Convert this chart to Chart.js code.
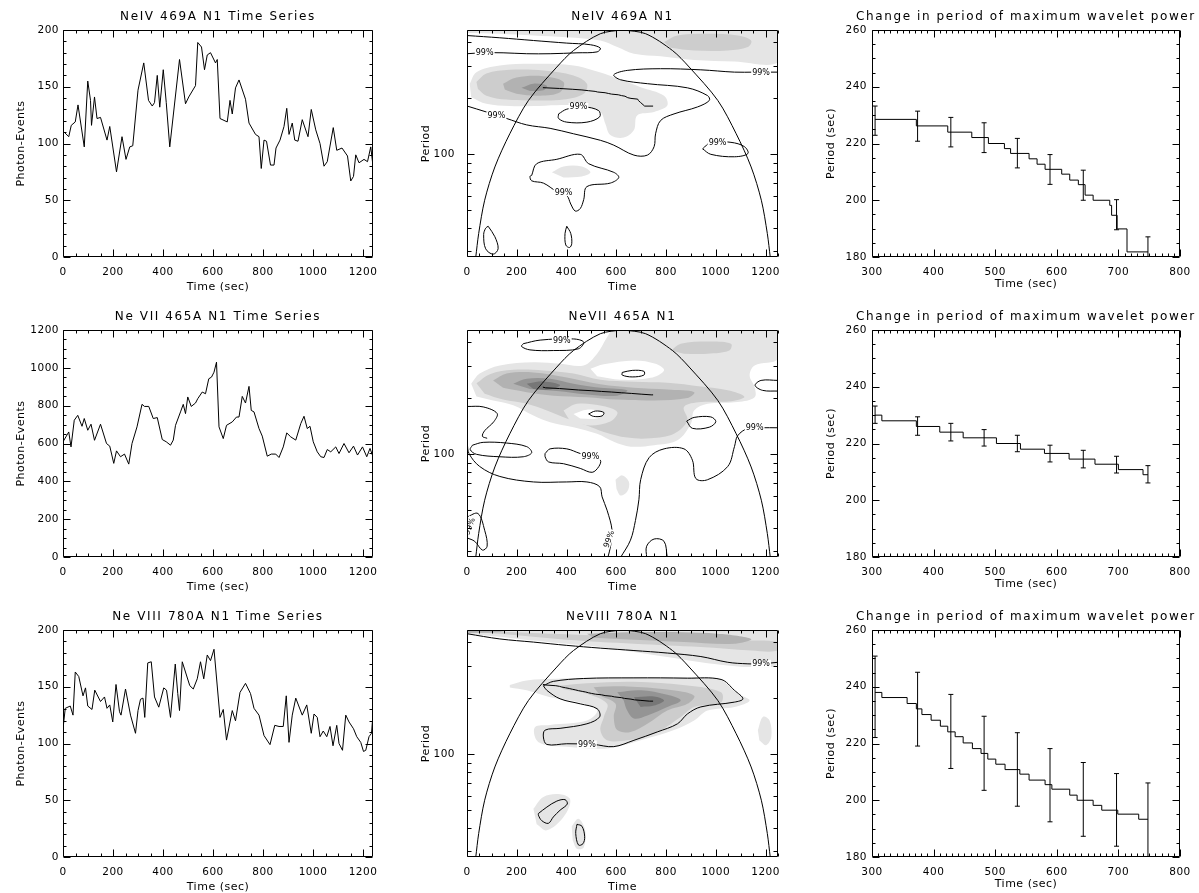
<!DOCTYPE html>
<html>
<head>
<meta charset="utf-8">
<script src="https://cdn.jsdelivr.net/npm/chart.js@4.4.1/dist/chart.umd.min.js"></script>
<style>
html,body{margin:0;padding:0;background:#fff;overflow:hidden;}
#wrap{position:relative;width:1199px;height:893px;overflow:hidden;background:#fff;}
canvas{position:absolute;}
</style>
</head>
<body>
<div id="wrap">
<canvas id="c1" width="400" height="300" style="left:0;top:0"></canvas>
<canvas id="c2" width="400" height="300" style="left:400px;top:0"></canvas>
<canvas id="c3" width="399" height="300" style="left:800px;top:0"></canvas>
<canvas id="c4" width="400" height="300" style="left:0;top:300px"></canvas>
<canvas id="c5" width="400" height="300" style="left:400px;top:300px"></canvas>
<canvas id="c6" width="399" height="300" style="left:800px;top:300px"></canvas>
<canvas id="c7" width="400" height="300" style="left:0;top:600px"></canvas>
<canvas id="c8" width="400" height="300" style="left:400px;top:600px"></canvas>
<canvas id="c9" width="399" height="300" style="left:800px;top:600px"></canvas>
</div>
<script>
/* ---------- tick labels ---------- */
const timeTicks = [0,200,400,600,800,1000,1200];
const countTicksA = [0,50,100,150,200];
const countTicksB = [0,200,400,600,800,1000,1200];
const periodTicks = [100];
const periodMinor = [30,40,50,60,70,80,90,200,300,400];
const stepTimeTicks = [300,400,500,600,700,800];
const stepPeriodTicks = [180,200,220,240,260];

/* ---------- time series (photon events) ---------- */
const ne4Time = [0,23,33,49,60,85,99,110,114,126,136,150,176,187,214,236,252,267,279,300,323,342,357,366,377,387,401,413,427,466,490,503,530,539,554,566,577,590,610,617,628,657,668,677,690,704,730,744,770,784,793,804,814,830,844,852,868,884,895,904,917,927,940,957,980,993,1011,1028,1044,1057,1081,1095,1116,1138,1151,1162,1171,1184,1204,1218,1231,1240];
const ne4Counts = [111,106,116,119,134,97,155,138,116,141,122,123,103,115,75,106,86,97,98,147,171,138,133,136,160,132,165,136,97,174,135,141,151,189,185,165,178,180,171,174,122,119,138,126,149,156,139,118,108,106,78,103,102,81,81,96,103,115,131,108,118,103,102,121,106,130,112,100,80,84,114,94,96,89,67,71,90,83,86,84,97,80];

const ne7Time = [0,23,32,45,59,76,85,99,112,126,150,174,187,203,214,230,246,263,276,296,316,326,343,361,377,397,413,430,441,450,470,481,490,499,513,530,539,557,570,583,594,604,614,624,641,654,677,694,704,717,730,744,753,764,784,797,817,833,851,864,881,895,911,931,951,964,977,988,1001,1017,1031,1044,1057,1071,1091,1104,1124,1144,1162,1178,1198,1215,1228,1240];
const ne7Counts = [609,661,582,723,749,691,732,670,702,617,702,600,586,495,561,530,544,491,600,688,807,796,796,732,737,621,609,591,618,696,767,807,758,846,796,814,837,872,863,942,951,977,1030,688,626,696,714,740,740,849,814,902,775,767,679,639,533,544,544,526,582,656,635,618,705,744,679,691,609,556,530,526,568,556,582,547,600,551,586,539,582,530,574,530];

const ne8Time = [0,9,29,40,49,63,80,90,99,116,127,150,166,176,187,199,212,226,232,250,270,290,300,310,320,327,339,353,366,383,403,414,430,449,459,466,477,507,521,537,550,563,577,590,604,628,641,654,677,690,708,730,750,764,784,804,828,847,864,881,893,904,917,931,957,975,993,1004,1017,1028,1041,1055,1068,1080,1095,1104,1118,1131,1144,1162,1175,1191,1202,1211,1224,1234,1240];
const ne8Counts = [113,131,133,125,163,159,142,149,133,130,147,137,141,131,134,119,152,128,125,148,125,109,129,139,140,123,171,172,141,132,149,147,123,170,144,129,172,151,148,157,172,157,178,173,183,123,130,103,129,120,145,153,144,131,125,107,99,116,115,115,142,101,125,140,125,134,109,126,123,106,111,106,115,98,116,100,94,125,119,113,106,101,93,94,106,109,126];

/* ---------- period of maximum wavelet power (steps + error bars) ---------- */
const ne4StepT = [305,372,423,462,489,515,525,555,568,581,608,621,635,646,659,686,689,698,714,748];
const ne4StepP = [228.5,226.2,224,222.1,220,218.2,216.5,214.6,212.7,210.9,209.2,207.1,205.5,201.8,200,198.2,194.7,189.9,181.8,181.8];
const ne7StepT = [305,316,372,410,448,502,541,580,620,662,700,740,748];
const ne7StepP = [230,228,226,224,222,220,218,216.5,214.5,212.7,210.8,209,209];
const ne8StepT = [305,316,357,372,381,396,411,423,435,448,463,477,488,501,516,540,555,581,592,621,633,659,673,699,733,748];
const ne8StepP = [238,236.2,234.1,232.2,230.2,228.2,226.1,224.1,222.4,220.2,218.2,216.5,214.5,212.7,210.8,209.2,207.1,205.5,203.9,201.8,200,198.2,196.5,195.1,193.3,193.3];

const errT = [305,374,428,482,536,589,643,697,748];
const ne4ErrLo = [222.9,220.8,218.8,216.8,211.4,205.6,200,189.6,177];
const ne4ErrHi = [233.2,231.4,229.2,227.3,221.8,216.1,210.6,200.2,187.1];
const ne7ErrLo = [227.1,222.9,220.9,219.1,217.1,213.5,211.4,209.6,206.1];
const ne7ErrHi = [233.2,229.4,227.1,224.9,222.9,219.4,217.6,215.5,212.2];
const ne8ErrLo = [222.1,219.1,211.2,203.5,197.9,192.4,187.3,183.8,179.8];
const ne8ErrHi = [250.8,245.1,237.3,229.6,223.8,218.2,213.3,209.4,206.1];

/* ---------- cone of influence (time, period) ---------- */
const coiT = [35,47,71,112,172,247,361,428,536,624,718,826,893,1008,1082,1142,1183,1207,1219];
const coiP = [27.8,37.5,56.6,85.5,129,195,295,362,446,468,446,362,295,195,129,85.5,56.6,37.5,27.8];

/* ---------- wavelet power: [gray level, outline [time, period]] ---------- */
const ne4Shades = [
  [1, [[0,468],[1250,468],[1250,313],[1075,316],[913,322],[778,337],[671,348],[604,378],[536,410],[401,427],[267,436],[132,446],[0,450]]],
  [2, [[792,402],[846,436],[967,446],[1089,436],[1142,410],[1129,378],[1048,362],[913,362],[818,375]]],
  [1, [[11,240],[38,277],[132,301],[294,307],[428,301],[509,283],[590,261],[698,230],[792,207],[805,183],[752,169],[684,162],[671,135],[630,123],[576,127],[556,146],[536,169],[455,182],[361,184],[267,182],[172,182],[78,187],[17,203]]],
  [2, [[38,245],[78,272],[172,285],[307,283],[428,266],[482,240],[469,212],[388,197],[267,195],[159,197],[78,207],[44,225]]],
  [3, [[145,240],[199,259],[307,263],[388,245],[374,216],[294,207],[199,212],[152,223]]],
  [4, [[219,228],[267,240],[321,234],[307,221],[253,219]]],
  [1, [[341,80],[388,86],[462,86],[496,80],[462,76],[388,75]]]
];
const ne4Contours = [
  [[0,436],[132,424],[267,410],[401,397],[496,389],[536,373],[523,356],[442,352],[334,348],[240,348],[145,352],[65,352],[0,348]],
  [[1250,277],[1156,277],[1075,277],[940,285],[778,289],[644,283],[590,268],[617,252],[725,240],[886,228],[967,207],[974,195],[927,180],[832,165],[778,152],[758,129],[752,110],[725,99],[671,99],[590,112],[536,119],[428,129],[334,138],[240,144],[159,156],[78,169],[0,182]],
  [[368,165],[401,175],[469,180],[529,172],[533,159],[482,149],[401,149],[368,156],[368,165]],
  [[947,107],[980,116],[1061,116],[1115,110],[1129,101],[1075,97],[980,100],[947,107]],
  [[260,77],[280,89],[361,94],[455,100],[489,89],[590,80],[610,75],[576,70],[482,67],[469,57],[455,51],[435,49.5],[417,54],[401,60],[361,63],[307,70],[260,72],[253,76],[260,77]],
  [[85,41],[112,36],[125,31],[105,29],[75,31],[67,37],[75,40],[85,41]],
  [[401,41],[417,37.5],[421,33],[412,31.5],[397,32.5],[394,37.5],[401,41]]
];
const ne4Labels = [[71,352,0],[1182,277,0],[118,162,0],[448,180,0],[1007,116,0],[388,62.5,0]];

const ne7Shades = [
  [1, [[17,240],[51,272],[132,301],[267,313],[374,307],[469,301],[523,348],[563,427],[590,468],[1250,468],[1250,327],[1156,301],[1136,266],[1156,230],[1156,203],[1088,191],[967,187],[913,172],[900,146],[846,119],[752,112],[658,110],[590,117],[523,129],[428,140],[334,149],[267,162],[186,184],[105,195],[38,205]]],
  [0, [[496,289],[550,305],[671,320],[758,307],[792,283],[738,258],[617,252],[523,263]]],
  [2, [[819,362],[859,394],[967,405],[1061,394],[1054,362],[967,348],[872,348]]],
  [2, [[38,241],[92,270],[186,285],[307,283],[428,272],[536,252],[671,246],[805,243],[940,232],[1048,221],[1115,204],[1061,193],[940,191],[872,180],[886,152],[832,129],[738,122],[644,123],[550,132],[482,143],[401,156],[321,172],[240,187],[145,197],[71,212]]],
  [1, [[388,172],[442,187],[536,183],[604,169],[576,150],[496,143],[415,150]]],
  [0, [[428,165],[482,174],[550,168],[523,156],[455,156]]],
  [3, [[105,250],[159,272],[267,276],[401,259],[536,238],[671,228],[805,223],[913,216],[886,201],[752,195],[604,197],[482,203],[348,207],[240,216],[145,228]]],
  [4, [[186,240],[240,255],[334,255],[428,240],[536,228],[644,221],[604,207],[482,210],[361,219],[253,225]]],
  [5, [[240,240],[307,247],[374,236],[334,223],[267,225]]],
  [1, [[597,73],[624,77],[651,71],[644,63],[617,60],[601,65]]]
];
const ne7Contours = [
  [[226,394],[294,412],[428,418],[469,402],[448,370],[347,362],[253,365],[219,381],[226,394]],
  [[624,276],[664,283],[711,280],[711,267],[664,261],[624,267],[624,276]],
  [[1250,250],[1182,250],[1158,235],[1188,221],[1250,219]],
  [[489,165],[516,171],[550,168],[543,161],[509,160],[489,165]],
  [[883,151],[913,158],[980,159],[1000,150],[974,140],[906,138],[883,151]],
  [[0,181],[65,180],[121,166],[108,150],[71,134],[62,125],[81,122]],
  [[22,112],[65,116],[159,115],[240,110],[260,102],[226,97],[132,97],[38,100],[13,106],[22,112]],
  [[1,114],[8,101],[51,86],[132,76],[267,71],[401,71],[482,71],[533,67],[543,59],[563,50],[583,39],[577,32],[566,27.8]],
  [[617,27.8],[657,34.5],[677,44],[691,57],[698,73],[732,96],[792,107],[872,107],[906,93],[920,74],[967,73],[1048,86],[1075,110],[1088,126],[1129,138],[1182,139],[1250,139]],
  [[314,101],[334,107],[401,107],[455,101],[496,98],[536,93],[530,86],[503,80],[455,84],[388,89],[328,91],[314,97],[314,101]],
  [[0,46],[44,48],[71,39],[81,32],[62,30.5],[31,34],[0,35.5]],
  [[722,27.8],[722,32],[752,35],[792,34],[805,27.8]]
];
const ne7Labels = [[381,410,0],[496,98,0],[1156,139,0],[570,35,-70],[11,41,-70]];

const ne8Shades = [
  [1, [[0,468],[1250,468],[1250,307],[1142,295],[1048,301],[940,313],[805,334],[671,355],[536,378],[401,394],[267,410],[132,430],[0,446]]],
  [2, [[0,464],[267,450],[536,436],[805,427],[1075,410],[1250,402],[1250,362],[1142,362],[940,378],[671,394],[401,414],[132,446],[0,456]]],
  [3, [[482,446],[738,455],[1007,446],[1142,418],[1075,394],[872,402],[671,414],[509,424]]],
  [3, [[0,468],[172,468],[132,456],[0,450]]],
  [1, [[172,236],[240,250],[361,255],[536,258],[805,258],[1007,255],[1088,212],[1136,195],[1075,180],[967,172],[913,152],[832,135],[698,119],[604,110],[536,107],[401,110],[321,112],[280,119],[273,140],[334,144],[482,152],[523,172],[455,190],[334,203],[240,221],[172,229]]],
  [1, [[1169,135],[1189,159],[1216,152],[1223,124],[1202,112],[1175,119]]],
  [2, [[374,234],[482,241],[671,246],[886,235],[1021,216],[1021,190],[913,180],[859,159],[752,129],[644,119],[563,119],[536,135],[550,159],[563,187],[482,212],[388,224]]],
  [3, [[509,230],[644,232],[805,223],[913,207],[886,187],[805,172],[725,146],[658,132],[604,135],[590,159],[597,187],[536,207]]],
  [4, [[604,216],[698,221],[805,209],[859,195],[805,180],[725,162],[671,156],[644,172],[630,195]]],
  [5, [[671,203],[752,205],[792,195],[752,183],[698,180]]],
  [1, [[267,51],[307,59],[374,61],[415,57],[388,46],[321,39],[280,42]]],
  [1, [[421,41],[448,45],[475,39],[469,31.5],[442,31],[425,34.5]]]
];
const ne8Contours = [
  [[0,446],[132,418],[267,402],[401,386],[536,373],[671,362],[805,351],[940,336],[1048,313],[1129,307],[1182,307],[1250,313]],
  [[307,234],[347,247],[469,256],[671,258],[886,257],[1021,253],[1075,221],[1109,199],[1075,191],[940,180],[886,165],[846,146],[765,132],[671,119],[590,110],[509,113],[401,114],[321,113],[307,124],[314,135],[374,138],[482,146],[533,159],[523,176],[455,187],[374,199],[321,221],[307,234]],
  [[287,48],[321,52],[361,56],[394,57],[403,54],[374,50],[347,46],[327,42.5],[300,44],[287,47],[287,48]],
  [[442,42],[462,41],[473,36],[466,33],[448,32.5],[437,37.5],[442,42]]
];
const ne8Labels = [[1182,307,0],[482,113,0]];

/* ---------- look ---------- */
Chart.defaults.font.family = '"DejaVu Sans", sans-serif';
Chart.defaults.color = '#000';
const GRAYS = ['#ffffff','#e5e5e5','#cdcdcd','#b2b2b2','#949494','#777777'];
const COLS = [
  {yw:63, pr:27, tickPad:4, titlePad:15, xTitleBottom:6},
  {yw:67, pr:22, tickPad:12, titlePad:20, xTitleBottom:6},
  {yw:72, pr:16, tickPad:5, titlePad:25, xTitleBottom:9}
];
const panelCfg = {};

function minorValues(scale, majors, n) {
  const step = (majors[1] - majors[0]) / n, out = [];
  for (let v = Math.ceil(scale.min / step) * step; v <= scale.max + 1e-9; v += step) {
    if (!majors.some(m => Math.abs(m - v) < 1e-6)) out.push(v);
  }
  return out;
}

/* IDL style box: inward ticks on four sides, shaded contour fills, contour labels, title */
const idlFrame = {
  id: 'idlFrame',
  beforeDraw(chart) { chart.ctx.letterSpacing = '0.5px'; },
  beforeDatasetDraw(chart, args) {
    const ds = chart.data.datasets[args.index];
    if (ds.shade === undefined) return;
    const ctx = chart.ctx, a = chart.chartArea, line = args.meta.dataset;
    ctx.save();
    ctx.beginPath(); ctx.rect(a.left, a.top, a.right - a.left, a.bottom - a.top); ctx.clip();
    ctx.beginPath();
    if (line && typeof line.path === 'function') {
      if (line.updateControlPoints) line.updateControlPoints(a, 'x');
      line.path(ctx);
    } else {
      args.meta.data.forEach((p, i) => i ? ctx.lineTo(p.x, p.y) : ctx.moveTo(p.x, p.y));
    }
    ctx.closePath();
    ctx.fillStyle = GRAYS[ds.shade];
    ctx.fill();
    ctx.restore();
    return false;
  },
  afterDatasetsDraw(chart) {
    const cfg = panelCfg[chart.canvas.id];
    if (!cfg || !cfg.labels) return;
    const ctx = chart.ctx, a = chart.chartArea;
    ctx.save();
    ctx.beginPath(); ctx.rect(a.left, a.top, a.right - a.left, a.bottom - a.top); ctx.clip();
    ctx.font = '8px "DejaVu Sans"';
    ctx.letterSpacing = '0px';
    ctx.textAlign = 'center'; ctx.textBaseline = 'middle';
    cfg.labels.forEach(([t, p, ang]) => {
      const x = chart.scales.x.getPixelForValue(t), y = chart.scales.y.getPixelForValue(p);
      ctx.save();
      ctx.translate(x, y);
      if (ang) ctx.rotate(ang * Math.PI / 180);
      const w = ctx.measureText('99%').width;
      ctx.fillStyle = '#fff'; ctx.fillRect(-w / 2 - 1, -4, w + 2, 8);
      ctx.fillStyle = '#000'; ctx.fillText('99%', 0, 0.5);
      ctx.restore();
    });
    ctx.restore();
  },
  afterDraw(chart) {
    const cfg = panelCfg[chart.canvas.id];
    if (!cfg) return;
    const ctx = chart.ctx, a = chart.chartArea, xs = chart.scales.x, ys = chart.scales.y;
    const L = Math.round(a.left) + 0.5, R = Math.round(a.right) - 0.5;
    const T = Math.round(a.top) + 0.5, B = Math.round(a.bottom) - 0.5;
    ctx.save();
    ctx.strokeStyle = '#000'; ctx.lineWidth = 1;
    ctx.beginPath();
    ctx.rect(L, T, R - L, B - T);
    const tick = (scale, v, len, horiz) => {
      const p = Math.round(scale.getPixelForValue(v)) + 0.5;
      if (horiz) {
        if (p < L - 1 || p > R + 1) return;
        ctx.moveTo(p, B); ctx.lineTo(p, B - len); ctx.moveTo(p, T); ctx.lineTo(p, T + len);
      } else {
        if (p < T - 1 || p > B + 1) return;
        ctx.moveTo(L, p); ctx.lineTo(L + len, p); ctx.moveTo(R, p); ctx.lineTo(R - len, p);
      }
    };
    cfg.xTicks.forEach(v => tick(xs, v, 7, true));
    minorValues(xs, cfg.xTicks, cfg.xMinor).forEach(v => tick(xs, v, 3, true));
    cfg.yTicks.forEach(v => tick(ys, v, 7, false));
    (cfg.yMinorList || minorValues(ys, cfg.yTicks, cfg.yMinor)).forEach(v => tick(ys, v, cfg.yMinorList ? 4 : 3, false));
    ctx.stroke();
    ctx.font = '12px "DejaVu Sans"';
    ctx.letterSpacing = '1.6px';
    ctx.fillStyle = '#000'; ctx.textAlign = 'center'; ctx.textBaseline = 'middle';
    ctx.fillText(cfg.title, (a.left + a.right) / 2, a.top - 13);
    ctx.restore();
  }
};
Chart.register(idlFrame);

function axisX(min, max, ticks, title, col) {
  return {
    type: 'linear', min, max, offset: false,
    grid: {display: false, drawTicks: false}, border: {display: false},
    afterBuildTicks: s => { s.ticks = ticks.map(v => ({value: v})); },
    afterFit: s => { s.height = 43; },
    ticks: {padding: 9, autoSkip: false, maxRotation: 0, font: {size: 10.5}, color: '#000', callback: v => String(v)},
    title: {display: true, text: title, color: '#000', font: {size: 11}, padding: {top: 0, bottom: col.xTitleBottom}}
  };
}
function axisY(type, min, max, ticks, title, col) {
  return {
    type, min, max,
    grid: {display: false, drawTicks: false}, border: {display: false},
    afterBuildTicks: s => { s.ticks = ticks.map(v => ({value: v})); },
    afterFit: s => { s.width = col.yw; },
    ticks: {padding: col.tickPad, autoSkip: false, font: {size: 10.5}, color: '#000', callback: v => String(v)},
    title: {display: true, text: title, color: '#000', font: {size: 11}, padding: {top: col.titlePad, bottom: 0}}
  };
}
function makeChart(id, col, datasets, xScale, yScale, frame) {
  panelCfg[id] = frame;
  return new Chart(document.getElementById(id), {
    type: 'line',
    data: {datasets},
    options: {
      responsive: false, animation: false, events: [],
      layout: {padding: {top: 30, right: col.pr, bottom: 0, left: 0}},
      plugins: {legend: {display: false}, tooltip: {enabled: false}},
      scales: {x: xScale, y: yScale}
    }
  });
}
const xy = (xs, ys) => xs.map((x, i) => ({x, y: ys[i]}));
const pairs = pts => pts.map(([x, y]) => ({x, y}));

/* ---------- left column: time series ---------- */
function timeSeries(id, title, t, v, yTicks, yMinor) {
  const col = COLS[0];
  makeChart(id, col,
    [{data: xy(t, v), borderColor: '#000', borderWidth: 1, pointRadius: 0, tension: 0}],
    axisX(0, 1240, timeTicks, 'Time (sec)', col),
    axisY('linear', yTicks[0], yTicks[yTicks.length - 1], yTicks, 'Photon-Events', col),
    {title, xTicks: timeTicks, xMinor: 4, yTicks, yMinor});
}

/* ---------- middle column: wavelet power spectrum ---------- */
function wavelet(id, title, shades, contours, labels, ridgeT, ridgeP) {
  const col = COLS[1];
  const ds = [];
  shades.forEach(([lvl, pts]) => ds.push({shade: lvl, data: pairs(pts), borderWidth: 0, pointRadius: 0, tension: 0.35}));
  contours.forEach(pts => ds.push({data: pairs(pts), borderColor: '#000', borderWidth: 1, pointRadius: 0, tension: 0.35}));
  ds.push({data: xy(coiT.slice(0, 10), coiP.slice(0, 10)), borderColor: '#000', borderWidth: 1, pointRadius: 0, tension: 0.3});
  ds.push({data: xy(coiT.slice(9), coiP.slice(9)), borderColor: '#000', borderWidth: 1, pointRadius: 0, tension: 0.3});
  ds.push({data: xy(ridgeT, ridgeP), borderColor: '#000', borderWidth: 1, pointRadius: 0, tension: 0});
  ds.forEach((d, i) => { d.order = ds.length - i; });
  makeChart(id, col, ds,
    axisX(0, 1250, timeTicks, 'Time', col),
    axisY('logarithmic', 28, 467, periodTicks, 'Period', col),
    {title, xTicks: timeTicks, xMinor: 4, yTicks: periodTicks, yMinorList: periodMinor, labels});
}

/* ---------- right column: period of maximum power ---------- */
function periodSteps(id, stepT, stepP, lo, hi) {
  const col = COLS[2];
  const bars = [];
  errT.forEach((t, i) => { bars.push({x: t, y: lo[i]}, {x: t, y: hi[i]}, {x: t, y: null}); });
  const caps = errT.flatMap((t, i) => [{x: t, y: lo[i]}, {x: t, y: hi[i]}]);
  makeChart(id, col, [
      {data: xy(stepT, stepP), stepped: true, borderColor: '#000', borderWidth: 1, pointRadius: 0},
      {data: bars, borderColor: '#000', borderWidth: 1, pointRadius: 0, spanGaps: false},
      {data: caps, showLine: false, pointStyle: 'line', pointRadius: 2.5, pointBorderWidth: 1, pointBorderColor: '#000', pointBackgroundColor: '#000'}
    ],
    axisX(300, 800, stepTimeTicks, 'Time (sec)', col),
    axisY('linear', 180, 260, stepPeriodTicks, 'Period (sec)', col),
    {title: 'Change in period of maximum wavelet power', xTicks: stepTimeTicks, xMinor: 10, yTicks: stepPeriodTicks, yMinor: 4});
}

timeSeries('c1', 'NeIV 469A N1 Time Series', ne4Time, ne4Counts, countTicksA, 5);
wavelet('c2', 'NeIV 469A N1', ne4Shades, ne4Contours, ne4Labels, ne4StepT, ne4StepP);
periodSteps('c3', ne4StepT, ne4StepP, ne4ErrLo, ne4ErrHi);

timeSeries('c4', 'Ne VII 465A N1 Time Series', ne7Time, ne7Counts, countTicksB, 4);
wavelet('c5', 'NeVII 465A N1', ne7Shades, ne7Contours, ne7Labels, ne7StepT, ne7StepP);
periodSteps('c6', ne7StepT, ne7StepP, ne7ErrLo, ne7ErrHi);

timeSeries('c7', 'Ne VIII 780A N1 Time Series', ne8Time, ne8Counts, countTicksA, 5);
wavelet('c8', 'NeVIII 780A N1', ne8Shades, ne8Contours, ne8Labels, ne8StepT, ne8StepP);
periodSteps('c9', ne8StepT, ne8StepP, ne8ErrLo, ne8ErrHi);
</script>
</body>
</html>
